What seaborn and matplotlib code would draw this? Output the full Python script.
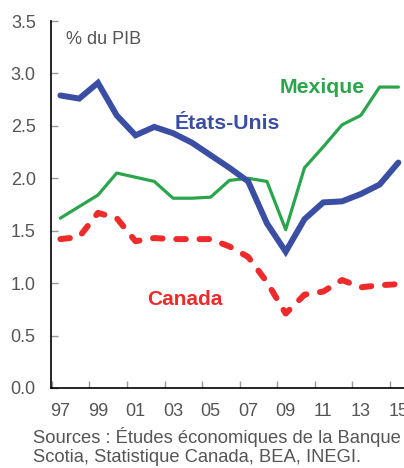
import numpy as np
import pandas as pd
import seaborn as sns
import matplotlib.pyplot as plt

# données (% du PIB)
years = list(range(1997, 2016))
etats_unis = [2.79, 2.76, 2.91, 2.60, 2.41, 2.49, 2.43, 2.34, 2.22, 2.10, 1.97,
              1.57, 1.30, 1.61, 1.77, 1.78, 1.85, 1.94, 2.15]
mexique = [1.62, 1.73, 1.84, 2.05, 2.01, 1.97, 1.81, 1.81, 1.82, 1.98, 2.00,
           1.97, 1.51, 2.10, 2.30, 2.51, 2.60, 2.87, 2.87]
canada = [1.42, 1.44, 1.67, 1.62, 1.40, 1.43, 1.42, 1.42, 1.42, 1.35, 1.25,
          1.01, 0.71, 0.89, 0.92, 1.03, 0.96, 0.98, 0.99]
tick_labels = ["97", "99", "01", "03", "05", "07", "09", "11", "13", "15"]
y_ticks = [0.0, 0.5, 1.0, 1.5, 2.0, 2.5, 3.0, 3.5]

BLUE = "#3a4ea3"
GREEN = "#2aa54c"
RED = "#ee2a2b"
GREY = "#555555"


def set_config():
    sns.set_style("ticks")
    plt.rcParams["font.family"] = ["Liberation Sans", "DejaVu Sans"]


def draw():
    df = pd.DataFrame({"annee": years, "us": etats_unis, "mx": mexique, "ca": canada})

    fig = plt.figure(figsize=(4.04, 4.68), dpi=100)
    ax = fig.add_axes([51 / 404, 80 / 468, 1 - 51 / 404, 367 / 468])

    sns.lineplot(data=df, x="annee", y="mx", ax=ax, color=GREEN, linewidth=2.3)
    sns.lineplot(data=df, x="annee", y="us", ax=ax, color=BLUE, linewidth=4.3,
                 solid_joinstyle="miter")
    sns.lineplot(data=df, x="annee", y="ca", ax=ax, color=RED, linewidth=4.3)
    ca_line = ax.lines[-1]
    ca_line.set_dashes((1.6, 2.3))
    ca_line.set_dash_capstyle("round")

    ax.set_xlim(1996.5, 2015.3)
    ax.set_ylim(0, 3.5)
    ax.set_xlabel("")
    ax.set_ylabel("")

    # étiquettes d'années sans marque, marques entre les années
    ax.set_xticks(years[::2], tick_labels)
    ax.set_xticks(np.arange(1996.55, 2015, 2), minor=True)
    ax.tick_params(axis="x", which="major", length=0, pad=11, labelsize=13,
                   labelcolor=GREY)
    ax.tick_params(axis="x", which="minor", direction="in", length=5, width=1,
                   color="#999999")
    ax.set_yticks(y_ticks, [f"{v:.1f}" for v in y_ticks])
    ax.tick_params(axis="y", direction="in", length=5, width=1, color="#999999",
                   pad=11, labelsize=13, labelcolor=GREY)

    sns.despine(ax=ax)
    for s in ["left", "bottom"]:
        ax.spines[s].set_color("black")
        ax.spines[s].set_linewidth(1.2)

    ax.text(1997.3, 3.32, "% du PIB", fontsize=13, color=GREY, va="center")
    ax.text(2003.1, 2.52, "États-Unis", fontsize=15.3, color=BLUE, weight="bold",
            va="center")
    ax.text(2008.7, 2.87, "Mexique", fontsize=15.3, color=GREEN, weight="bold",
            va="center")
    ax.text(2001.6, 0.84, "Canada", fontsize=15, color=RED, weight="bold",
            va="center")

    fig.text(33 / 404, 1 - 443 / 468, "Sources : Études économiques de la Banque",
             fontsize=13.2, color=GREY, va="baseline")
    fig.text(33 / 404, 1 - 462 / 468, "Scotia, Statistique Canada, BEA, INEGI.",
             fontsize=13.2, color=GREY, va="baseline")

    fig.savefig("out.png", dpi=100)


def main():
    set_config()
    draw()


if __name__ == "__main__":
    main()
